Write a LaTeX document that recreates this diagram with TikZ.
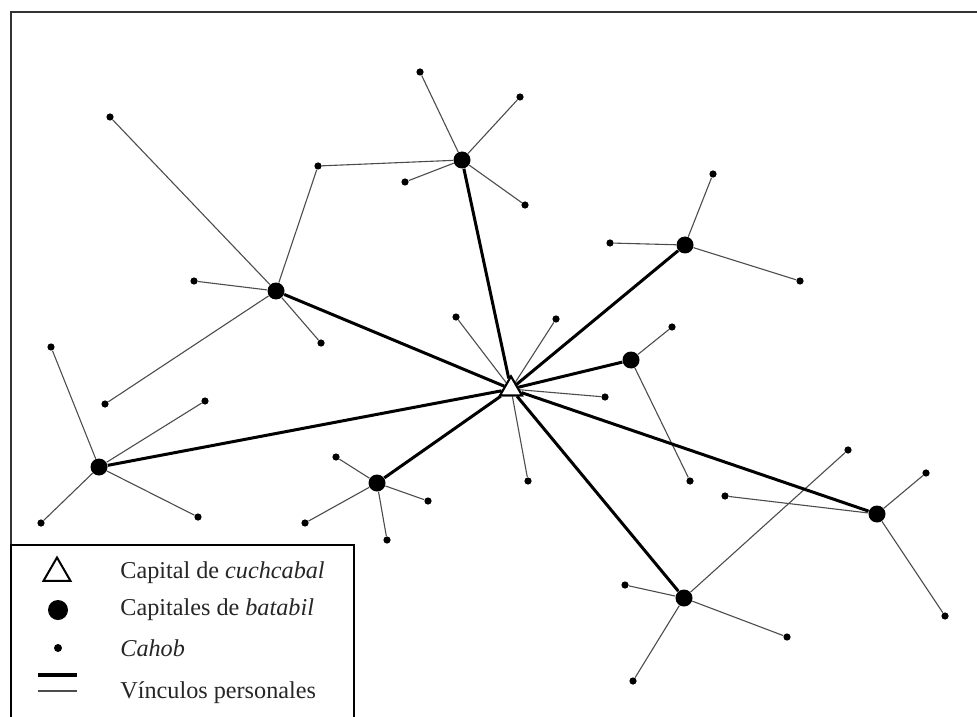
\documentclass[tikz,border=0pt]{standalone}
\usepackage{fontspec}
\setmainfont{Liberation Serif}
\usetikzlibrary{shapes.geometric}
\tikzset{%
    vtx/.style={inner sep=0pt,circle,fill=black}
}

\begin{document}
\begin{tikzpicture}[
        x=0.5pt, y=-0.5pt,
        bat/.style={vtx,minimum size=8.5pt},
        cah/.style={vtx,minimum size=3.6pt},
        capital/.style={regular polygon,regular polygon sides=3,draw,fill=white,line width=1pt,inner sep=0pt,minimum size=12.5pt},
        edge/.style={line width=1.5pt},
        link/.style={line width=0.55pt,black!70},
        txt/.style={anchor=west,inner sep=0pt,font=\fontsize{12.1}{14}\selectfont,text=black!85}
        ]
        \useasboundingbox (0,0) rectangle (977,716);
        \clip (0,0) rectangle (977,716);
        \draw[line width=1.1pt,black!80] (11,12) rectangle (1000,740);

        % capital and batabil
        \node[capital] (0) at (511,389){};
        \node[bat] (1b) at (462,160){};
        \node[bat] (2b) at (276,291){};
        \node[bat] (3b) at (99,467){};
        \node[bat] (4b) at (377,483){};
        \node[bat] (5b) at (685,245){};
        \node[bat] (6b) at (631,360){};
        \node[bat] (7b) at (877,514){};
        \node[bat] (8b) at (684,598){};

        % cahob
        \node[cah] (c1) at (420,72){};
        \node[cah] (c2) at (520,97){};
        \node[cah] (c3) at (405,182){};
        \node[cah] (c4) at (525,205){};
        \node[cah] (c5) at (318,166){};
        \node[cah] (c6) at (110,117){};
        \node[cah] (c7) at (194,281){};
        \node[cah] (c8) at (321,343){};
        \node[cah] (c9) at (105,404){};
        \node[cah] (c10) at (51,347){};
        \node[cah] (c11) at (205,401){};
        \node[cah] (c12) at (41,523){};
        \node[cah] (c13) at (198,517){};
        \node[cah] (c14) at (336,457){};
        \node[cah] (c15) at (428,501){};
        \node[cah] (c16) at (305,523){};
        \node[cah] (c17) at (387,540){};
        \node[cah] (c18) at (610,243){};
        \node[cah] (c19) at (713,174){};
        \node[cah] (c20) at (800,281){};
        \node[cah] (c21) at (672,327){};
        \node[cah] (c22) at (690,481){};
        \node[cah] (c23) at (926,473){};
        \node[cah] (c24) at (945,616){};
        \node[cah] (c25) at (725,496){};
        \node[cah] (c26) at (848,450){};
        \node[cah] (c27) at (625,585){};
        \node[cah] (c28) at (787,637){};
        \node[cah] (c29) at (633,681){};
        \node[cah] (c30) at (456,317){};
        \node[cah] (c31) at (556,319){};
        \node[cah] (c32) at (605,397){};
        \node[cah] (c33) at (528,481){};

        \draw[link] (c1) -- (1b) -- (c2);
        \draw[link] (c3) -- (1b) -- (c4);
        \draw[link] (2b) -- (c5) -- (1b);
        \draw[link] (c6) -- (2b) -- (c7);
        \draw[link] (c8) -- (2b) -- (c9);
        \draw[link] (c10) -- (3b) -- (c11);
        \draw[link] (c12) -- (3b) -- (c13);
        \draw[link] (c14) -- (4b) -- (c15);
        \draw[link] (c16) -- (4b) -- (c17);
        \draw[link] (c18) -- (5b) -- (c19);
        \draw[link] (5b) -- (c20);
        \draw[link] (c21) -- (6b) -- (c22);
        \draw[link] (c23) -- (7b) -- (c24);
        \draw[link] (7b) -- (c25);
        \draw[link] (c26) -- (8b) -- (c27);
        \draw[link] (c28) -- (8b) -- (c29);
        \draw[link] (c30) -- (0) -- (c31);
        \draw[link] (c32) -- (0) -- (c33);

        \draw[edge] (0) -- (1b);
        \draw[edge] (0) -- (2b);
        \draw[edge] (0) -- (3b);
        \draw[edge] (0) -- (4b);
        \draw[edge] (0) -- (5b);
        \draw[edge] (0) -- (6b);
        \draw[edge] (0) -- (7b);
        \draw[edge] (0) -- (8b);
        \node[capital] at (0){};

        % legend
        \draw[line width=1.1pt,fill=white] (11,545) rectangle (354,740);
        \node[capital,minimum size=15.5pt,line width=1pt] (lcap) at (57,573){};
        \node[bat,minimum size=10pt] (lbat) at (58,610){};
        \node[cah,minimum size=4pt] (lcah) at (58,648){};
        \coordinate (l1a) at (38,675);
        \coordinate (l1b) at (77,675);
        \coordinate (l2a) at (38,691);
        \coordinate (l2b) at (77,691);
        \draw[edge,line width=2pt] (l1a) -- (l1b);
        \draw[link,line width=0.7pt] (l2a) -- (l2b);
        \node[txt] (t1) at (120,573){Capital de \textit{cuchcabal}};
        \node[txt] (t2) at (120,610){Capitales de \textit{batabil}};
        \node[txt] (t3) at (120,648){\textit{Cahob}};
        \node[txt] (t4) at (120,693){Vínculos personales};
    \end{tikzpicture}
\end{document}
